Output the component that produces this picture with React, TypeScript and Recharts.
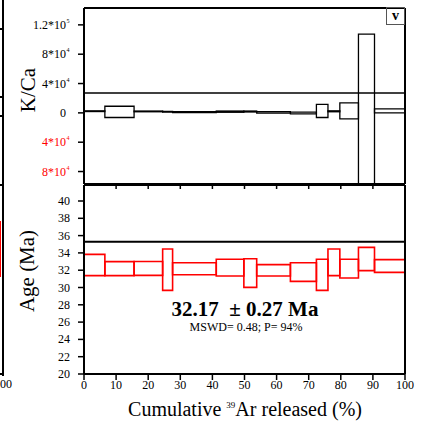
import React from 'react';
import { ComposedChart, Line, XAxis, YAxis, ReferenceArea, ReferenceLine } from 'recharts';

const FONT = '"Times New Roman", Times, "Liberation Serif", serif';

// cumulative 39Ar step edges (%)
const stepEdges = [0, 6.5, 15.6, 24.5, 27.6, 41.2, 49.8, 53.8, 64.3, 72.4, 76.0, 79.7, 85.5, 90.5, 100];

// age boxes (Ma), 2-sigma bounds per step
const ageLow = [31.37, 31.37, 31.4, 29.67, 31.48, 31.33, 30.02, 31.33, 30.71, 29.67, 31.37, 31.1, 31.95, 31.75];
const ageHigh = [33.83, 32.99, 33.0, 34.45, 32.87, 33.26, 33.33, 32.64, 32.87, 33.26, 34.45, 33.26, 34.64, 33.22];

// K/Ca boxes per step
const kcaLow = [1800, -6300, 1500, 1000, 500, 800, 1200, -300, -1400, -6300, 1500, -8100, -120000, 0];
const kcaHigh = [2800, 9000, 2500, 2000, 1500, 2500, 2500, 1800, 900, 11700, 2800, 13500, 107300, 5400];

const kcaTicks = [-80000, -40000, 0, 40000, 80000, 120000];
const ageTicks = [20, 22, 24, 26, 28, 30, 32, 34, 36, 38, 40];
const xTicks = [0, 10, 20, 30, 40, 50, 60, 70, 80, 90, 100];

const kcaLevel = 27000;
const ageLevel = 35.3;

const edgeData = stepEdges.map((x) => ({ x, y: 0 }));

const frame = { stroke: '#000', strokeWidth: 2 };
const tickStroke = { stroke: '#000', strokeWidth: 1.5 };

function KcaTick({ x, y, payload }: any) {
  const v = payload.value;
  const a = Math.abs(v);
  const color = v < 0 ? '#ff0000' : '#000';
  const px = x - 10;
  if (a === 0) {
    return (
      <text x={px} y={y} dy={4} textAnchor="end" fontSize={12} fill="#000" fontFamily={FONT}>0</text>
    );
  }
  const exp = a >= 1e5 ? 5 : 4;
  const mant = String(a / 10 ** exp);
  return (
    <g>
      <text x={px} y={y} dy={4} textAnchor="end" fontSize={12} fill={color} fontFamily={FONT}>{mant}*10</text>
      <text x={px + 0.5} y={y} dy={-2} textAnchor="start" fontSize={6} fill={color} fontFamily={FONT}>{exp}</text>
    </g>
  );
}

function AgeTick({ x, y, payload }: any) {
  return (
    <text x={x} y={y} dy={4} textAnchor="end" fontSize={12} fill="#000" fontFamily={FONT}>{payload.value}</text>
  );
}

function XTick({ x, y, payload }: any) {
  return (
    <text x={x} y={y} dy={9} textAnchor="middle" fontSize={12} fill="#000" fontFamily={FONT}>{payload.value}</text>
  );
}

const abs = (s: React.CSSProperties): React.CSSProperties => ({ position: 'absolute', ...s });

export default function App() {
  return (
    <div style={{ position: 'fixed', left: 0, top: 0, width: 431, height: 425, fontFamily: FONT, background: '#fff', overflow: 'hidden' }}>
      {/* K/Ca panel */}
      <div style={abs({ left: 0, top: 0 })}>
        <ComposedChart width={431} height={186} data={edgeData} margin={{ top: 7, right: 25, bottom: 1, left: 0 }}>
          <XAxis type="number" dataKey="x" domain={[0, 100]} height={1} tick={false} tickLine={false} stroke="#000" axisLine={frame} />
          <XAxis xAxisId="top" type="number" dataKey="x" domain={[0, 100]} orientation="top" height={1} tick={false} tickLine={false} stroke="#000" axisLine={frame} />
          <YAxis type="number" domain={[-97000, 143000]} ticks={kcaTicks} interval={0} width={84} tickSize={6} tickMargin={2} stroke="#000"
            tick={<KcaTick />} tickLine={tickStroke} axisLine={frame} allowDataOverflow />
          <YAxis yAxisId="r" orientation="right" type="number" domain={[-97000, 143000]} width={1} tick={false} tickLine={false} stroke="#000" axisLine={frame} />
          <ReferenceLine y={kcaLevel} stroke="#000" strokeWidth={1.5} />
          {stepEdges.slice(0, -1).map((x1, i) => (
            <ReferenceArea key={i} x1={x1} x2={stepEdges[i + 1]} y1={kcaLow[i]} y2={kcaHigh[i]}
              stroke="#000" strokeWidth={1.3} fill="none" fillOpacity={0} ifOverflow="hidden" />
          ))}
          <Line dataKey="y" stroke="none" dot={false} activeDot={false} isAnimationActive={false} />
        </ComposedChart>
      </div>

      {/* Age panel */}
      <div style={abs({ left: 0, top: 180 })}>
        <ComposedChart width={431} height={224} data={edgeData} margin={{ top: 5, right: 25, bottom: 0, left: 0 }}>
          <XAxis type="number" dataKey="x" domain={[0, 100]} ticks={xTicks} interval={0} height={30} tickSize={6} tickMargin={0} stroke="#000"
            tick={<XTick />} tickLine={tickStroke} axisLine={frame} />
          <XAxis xAxisId="top" type="number" dataKey="x" domain={[0, 100]} ticks={xTicks} interval={0} orientation="top" mirror height={1}
            tickSize={4} tickFormatter={() => ''} stroke="#000" tickLine={tickStroke} axisLine={frame} />
          <YAxis type="number" domain={[20, 41.85]} ticks={ageTicks} interval={0} width={84} tickSize={6} tickMargin={8} stroke="#000"
            tick={<AgeTick />} tickLine={tickStroke} axisLine={frame} allowDataOverflow />
          <YAxis yAxisId="r" orientation="right" type="number" domain={[20, 41.85]} width={1} tick={false} tickLine={false} stroke="#000" axisLine={frame} />
          <ReferenceLine y={ageLevel} stroke="#000" strokeWidth={2} />
          {stepEdges.slice(0, -1).map((x1, i) => (
            <ReferenceArea key={i} x1={x1} x2={stepEdges[i + 1]} y1={ageLow[i]} y2={ageHigh[i]}
              stroke="#ff0000" strokeWidth={1.6} fill="none" fillOpacity={0} ifOverflow="hidden" />
          ))}
          <Line dataKey="y" stroke="none" dot={false} activeDot={false} isAnimationActive={false} />
        </ComposedChart>
      </div>

      {/* fragment of neighbouring panel */}
      <div style={abs({ left: 2, top: 0, width: 1.5, height: 376, background: '#000' })} />
      {[28, 96, 115, 184, 373].map((t) => (
        <div key={t} style={abs({ left: 0, top: t, width: 3, height: 1.5, background: '#000' })} />
      ))}
      <div style={abs({ left: -3, top: 221, width: 3, height: 54, borderTop: '1.5px solid #f00', borderBottom: '1.5px solid #f00', borderRight: '1.5px solid #f00' })} />
      <div style={abs({ left: 0, top: 377, fontSize: 12, lineHeight: '14px' })}>00</div>

      {/* sample label */}
      <div style={abs({ left: 386, top: 7, width: 19, height: 18, border: '1px solid #555', boxSizing: 'border-box', textAlign: 'center', fontWeight: 'bold', fontSize: 14, lineHeight: '15px' })}>v</div>

      {/* axis titles */}
      <div style={abs({ left: 28, top: 90, transform: 'translate(-50%, -50%) rotate(-90deg)', fontSize: 21, whiteSpace: 'nowrap' })}>K/Ca</div>
      <div style={abs({ left: 27, top: 271, transform: 'translate(-50%, -50%) rotate(-90deg)', fontSize: 21, whiteSpace: 'nowrap' })}>Age (Ma)</div>
      <div style={abs({ left: 245, top: 409, transform: 'translate(-50%, -50%)', fontSize: 20, whiteSpace: 'nowrap' })}>
        Cumulative <sup style={{ fontSize: 9, verticalAlign: 'top', position: 'relative', top: 2 }}>39</sup>Ar released (%)
      </div>

      {/* plateau annotation */}
      <div style={abs({ left: 245, top: 309, transform: 'translate(-50%, -50%)', fontSize: 21, fontWeight: 'bold', whiteSpace: 'pre' })}>32.17  ± 0.27 Ma</div>
      <div style={abs({ left: 246, top: 327, transform: 'translate(-50%, -50%)', fontSize: 12, whiteSpace: 'nowrap' })}>MSWD= 0.48; P= 94%</div>
    </div>
  );
}
